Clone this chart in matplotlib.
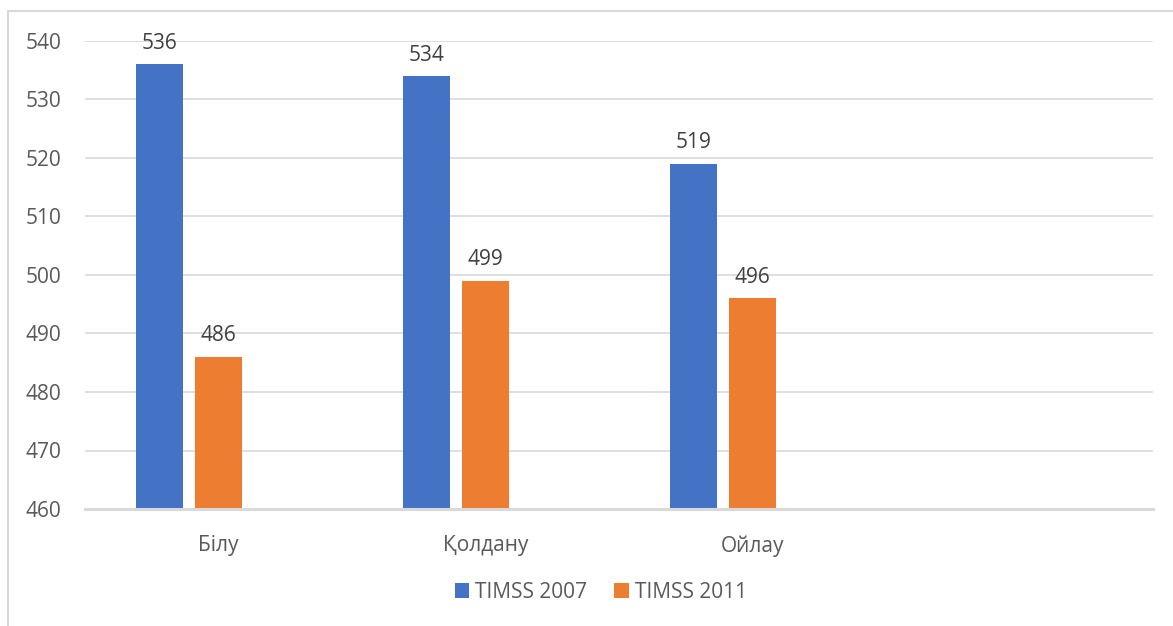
import numpy as np
import matplotlib.pyplot as plt
from matplotlib.patches import Rectangle

# data
categories = ['Білу', 'Қолдану', 'Ойлау', '']
series_names = ['TIMSS 2007', 'TIMSS 2011']
timss_2007 = [536, 534, 519, None]
timss_2011 = [486, 499, 496, None]

colors = ['#4472C4', '#ED7D31']
plt.rcParams['font.family'] = ['Open Sans', 'DejaVu Sans']

W, H = 1173, 626
fig = plt.figure(figsize=(W / 100, H / 100), dpi=100)
ax = fig.add_axes([85 / W, 1 - 509 / H, (1153 - 85) / W, (509 - 41) / H])

x = np.arange(len(categories))
bar_w = 0.176
step = 0.221
for k, (vals, col) in enumerate(zip([timss_2007, timss_2011], colors)):
    xs = [xi + (k - 1) * step for xi, v in zip(x, vals) if v is not None]
    vs = [v for v in vals if v is not None]
    bars = ax.bar(xs, [v - 460 for v in vs], bottom=460, width=bar_w, color=col,
                  label=series_names[k], zorder=3)
    for b, v in zip(bars, vs):
        ax.text(b.get_x() + b.get_width() / 2, v + 1.8, f'{v}', ha='center', va='bottom',
                fontsize=15, color='#404040')

ax.set_xlim(-0.5, len(categories) - 0.5)
ax.set_ylim(460, 540)
ax.set_yticks(np.arange(460, 541, 10))
ax.set_xticks(x)
ax.set_xticklabels(categories)
ax.tick_params(axis='both', length=0, labelsize=15, labelcolor='#595959')
ax.tick_params(axis='y', pad=17)
ax.tick_params(axis='x', pad=19)

ax.grid(axis='y', color='#d9d9d9', lw=1.2, zorder=0)
ax.set_axisbelow(True)
for s in ['top', 'right', 'left']:
    ax.spines[s].set_visible(False)
ax.spines['bottom'].set_color('#d9d9d9')
ax.spines['bottom'].set_linewidth(2.2)
ax.spines['bottom'].set_zorder(4)

# chart-area border (runs off the right and bottom edges)
fig.patches.append(Rectangle((8 / W, -0.2), 2, (1 - 11 / H) + 0.2,
                             transform=fig.transFigure, fill=False,
                             edgecolor='#d9d9d9', lw=1.5))

fig.legend(loc='center', bbox_to_anchor=(601 / W, 1 - 592 / H), ncol=2, frameon=False,
           fontsize=15, labelcolor='#595959', handlelength=0.7, handleheight=0.7,
           handletextpad=0.3, columnspacing=1.3)

fig.savefig('out.png', dpi=100, facecolor='white')
